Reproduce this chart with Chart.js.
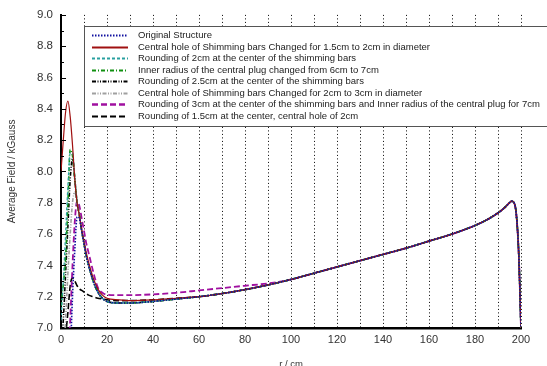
<!DOCTYPE html>
<html>
<head>
<meta charset="utf-8">
<script src="https://cdn.jsdelivr.net/npm/chart.js@4.4.1/dist/chart.umd.min.js"></script>
<style>
  html, body { margin: 0; padding: 0; background: #fff; }
  #wrap { width: 547px; height: 366px; }
</style>
</head>
<body>
<div id="wrap"><canvas id="fieldChart" width="547" height="366"></canvas></div>
<script>
//#region Data

// Radius samples (cm). Head part 0..20 is per series, tail part 25..200 is shared.
const rHead = [0, 1, 2, 3, 4, 5, 6, 7, 8, 9, 10, 11, 12, 14, 16, 18, 20];
const rTail = [25, 30, 40, 50, 60, 70, 80, 90, 100, 110, 120, 130, 140, 150, 160, 170, 180, 185, 190, 193, 195, 196, 197, 198, 199, 200];

// Shared tail of the field (kGauss).
const tailMain   = [7.16, 7.16, 7.17, 7.185, 7.20, 7.22, 7.245, 7.275, 7.31, 7.35, 7.39, 7.43, 7.47, 7.51, 7.555, 7.60, 7.655, 7.69, 7.735, 7.77, 7.80, 7.81, 7.80, 7.72, 7.48, 7.0];
const tailRed    = [7.18, 7.175, 7.18, 7.19, 7.20, 7.22, 7.245, 7.275, 7.31, 7.35, 7.39, 7.43, 7.47, 7.51, 7.555, 7.60, 7.655, 7.69, 7.735, 7.77, 7.80, 7.81, 7.80, 7.72, 7.48, 7.0];
const tailPurple = [7.21, 7.21, 7.215, 7.225, 7.24, 7.255, 7.27, 7.285, 7.31, 7.35, 7.39, 7.43, 7.47, 7.51, 7.555, 7.60, 7.655, 7.69, 7.735, 7.77, 7.80, 7.81, 7.80, 7.72, 7.48, 7.0];
const tailBlack  = [7.175, 7.175, 7.18, 7.19, 7.20, 7.22, 7.245, 7.275, 7.31, 7.35, 7.39, 7.43, 7.47, 7.51, 7.555, 7.60, 7.655, 7.69, 7.735, 7.77, 7.80, 7.81, 7.80, 7.72, 7.48, 7.0];

// Heads (r = 0..20), null where the curve is still below the axis.
const headOriginal = [null, null, null, null, 6.8, 7.2, 7.5, 7.71, 7.70, 7.62, 7.54, 7.46, 7.40, 7.30, 7.23, 7.19, 7.17];
const headHole2    = [8.0, 8.2, 8.38, 8.45, 8.35, 8.17, 7.95, 7.80, 7.72, 7.63, 7.55, 7.48, 7.42, 7.32, 7.25, 7.21, 7.19];
const headRound2   = [7.05, 7.3, 7.6, 7.9, 8.12, 8.12, 7.96, 7.80, 7.72, 7.62, 7.54, 7.46, 7.40, 7.30, 7.23, 7.19, 7.17];
const headPlug7    = [7.14, 7.28, 7.45, 7.8, 8.14, 8.10, 7.95, 7.80, 7.72, 7.62, 7.54, 7.46, 7.40, 7.30, 7.23, 7.19, 7.17];
const headRound25  = [6.9, 7.05, 7.35, 7.65, 7.95, 8.08, 7.95, 7.80, 7.72, 7.62, 7.54, 7.46, 7.40, 7.30, 7.23, 7.19, 7.17];
const headHole3    = [null, 6.8, 7.05, 7.35, 7.6, 7.8, 7.87, 7.80, 7.72, 7.62, 7.54, 7.46, 7.40, 7.30, 7.23, 7.19, 7.17];
const headRound3   = [null, null, null, 6.8, 7.05, 7.4, 7.68, 7.81, 7.78, 7.70, 7.62, 7.54, 7.48, 7.36, 7.26, 7.225, 7.212];
const headRound15  = [null, null, 6.95, 7.1, 7.27, 7.32, 7.30, 7.27, 7.25, 7.24, 7.23, 7.22, 7.21, 7.20, 7.19, 7.185, 7.18];

const seriesLabels = [
    'Original Structure',
    'Central hole of Shimming bars Changed for 1.5cm to 2cm in diameter',
    'Rounding of 2cm at the center of the shimming bars',
    'Inner radius of the central plug changed from 6cm to 7cm',
    'Rounding of 2.5cm at the center of the shimming bars',
    'Central hole of Shimming bars Changed for 2cm to 3cm in diameter',
    'Rounding of 3cm at the center of the shimming bars and Inner radius of the central plug for 7cm',
    'Rounding of 1.5cm at the center, central hole of 2cm'
];

const yTicks = [7.0, 7.2, 7.4, 7.6, 7.8, 8.0, 8.2, 8.4, 8.6, 8.8, 9.0];

//#endregion

//#region Chart

const rAll = rHead.concat(rTail);

function toPoints(head, tail) {
    const vals = head.concat(tail);
    return rAll.map((r, i) => ({ x: r, y: vals[i] }));
}

function makeSet(label, head, tail, color, dash, width) {
    return {
        label: label,
        data: toPoints(head, tail),
        borderColor: color,
        borderDash: dash,
        borderWidth: width,
        pointRadius: 0,
        fill: false,
        cubicInterpolationMode: 'monotone'
    };
}

const datasets = [
    makeSet(seriesLabels[0], headOriginal, tailMain,   '#1010a0', [1.5, 1.5], 1.6),
    makeSet(seriesLabels[1], headHole2,    tailRed,    '#a01010', [],         1.2),
    makeSet(seriesLabels[2], headRound2,   tailMain,   '#2aa0a0', [3, 2],     1.3),
    makeSet(seriesLabels[3], headPlug7,    tailMain,   '#109010', [4, 2, 1, 2], 1.6),
    makeSet(seriesLabels[4], headRound25,  tailMain,   '#000000', [4, 1.5, 1, 1.5, 1, 1.5], 1.6),
    makeSet(seriesLabels[5], headHole3,    tailMain,   '#a0a0a0', [4, 1.5, 1, 1.5, 1, 1.5], 1.6),
    makeSet(seriesLabels[6], headRound3,   tailPurple, '#a010a0', [6, 3],     1.8),
    makeSet(seriesLabels[7], headRound15,  tailBlack,  '#000000', [6, 3],     1.6)
];

// Inward ticks on the left axis (major 0.2, minor 0.1).
const innerTicks = {
    id: 'innerTicks',
    afterDraw(chart) {
        const ctx = chart.ctx;
        const y = chart.scales.y;
        const left = chart.chartArea.left;
        ctx.save();
        ctx.strokeStyle = '#000';
        ctx.lineWidth = 1;
        for (let i = 0; i <= 20; i++) {
            const v = 7 + i * 0.1;
            const py = Math.round(y.getPixelForValue(v)) + 0.5;
            const len = (i % 2 === 0) ? 5 : 3;
            ctx.beginPath();
            ctx.moveTo(left, py);
            ctx.lineTo(left + len, py);
            ctx.stroke();
        }
        ctx.restore();
    }
};

// Boxed legend inside the plot, running past the right edge.
const boxLegend = {
    id: 'boxLegend',
    afterDatasetsDraw(chart) {
        const ctx = chart.ctx;
        const x0 = 84, y0 = 26, x1 = 560, y1 = 126;
        const rowTop = 35, rowStep = 11.55;
        ctx.save();
        ctx.fillStyle = '#fff';
        ctx.fillRect(x0, y0, x1 - x0, y1 - y0);
        ctx.strokeStyle = '#555';
        ctx.lineWidth = 1;
        ctx.strokeRect(x0 + 0.5, y0 + 0.5, x1 - x0, y1 - y0);
        ctx.font = '9.5px "Liberation Sans", Arial, sans-serif';
        ctx.textBaseline = 'middle';
        chart.data.datasets.forEach((ds, i) => {
            const yy = Math.round(rowTop + i * rowStep) + 0.5;
            ctx.strokeStyle = ds.borderColor;
            ctx.lineWidth = ds.borderWidth + 0.6;
            ctx.setLineDash(ds.borderDash);
            ctx.beginPath();
            ctx.moveTo(92, yy);
            ctx.lineTo(128, yy);
            ctx.stroke();
            ctx.setLineDash([]);
            ctx.fillStyle = '#222';
            ctx.fillText(ds.label, 138, yy);
        });
        ctx.restore();
    }
};

const ctx = document.getElementById('fieldChart');

const config = {
    type: 'line',
    data: { datasets: datasets },
    options: {
        animation: false,
        responsive: false,
        maintainAspectRatio: false,
        layout: { padding: { left: 0, right: 26, top: 11, bottom: 0 } },
        plugins: {
            legend: { display: false },
            tooltip: { enabled: false }
        },
        scales: {
            x: {
                type: 'linear',
                min: 0,
                max: 200,
                afterFit: (scale) => { scale.height = 38; },
                ticks: {
                    stepSize: 10,
                    autoSkip: false,
                    maxRotation: 0,
                    padding: 5,
                    color: '#333',
                    font: { family: '"Liberation Sans", Arial, sans-serif', size: 11 },
                    callback: (v) => (v % 20 === 0 ? String(v) : '')
                },
                grid: {
                    color: (c) => (c.tick && (c.tick.value === 0) ? 'rgba(0,0,0,0)' : '#000'),
                    lineWidth: 1,
                    drawTicks: false
                },
                border: { display: true, color: '#000', width: 2.5, dash: [1, 2.5] },
                title: {
                    display: true,
                    text: 'r / cm',
                    color: '#333',
                    padding: { top: 0, bottom: -4 },
                    font: { family: '"Liberation Sans", Arial, sans-serif', size: 9.5 }
                }
            },
            y: {
                min: 7,
                max: 9,
                afterFit: (scale) => { scale.width = 61; },
                afterBuildTicks: (scale) => { scale.ticks = yTicks.map(v => ({ value: v })); },
                ticks: {
                    padding: 8,
                    color: '#333',
                    font: { family: '"Liberation Sans", Arial, sans-serif', size: 11.5 },
                    callback: (v) => Number(v).toFixed(1)
                },
                grid: { drawOnChartArea: false, drawTicks: false },
                border: { display: true, color: '#000', width: 2 },
                title: {
                    display: true,
                    text: 'Average Field / kGauss',
                    color: '#333',
                    padding: { top: 6, bottom: 0 },
                    font: { family: '"Liberation Sans", Arial, sans-serif', size: 10 }
                }
            }
        }
    },
    plugins: [innerTicks, boxLegend]
};

const fieldChart = new Chart(ctx, config);

//#endregion
</script>
</body>
</html>
